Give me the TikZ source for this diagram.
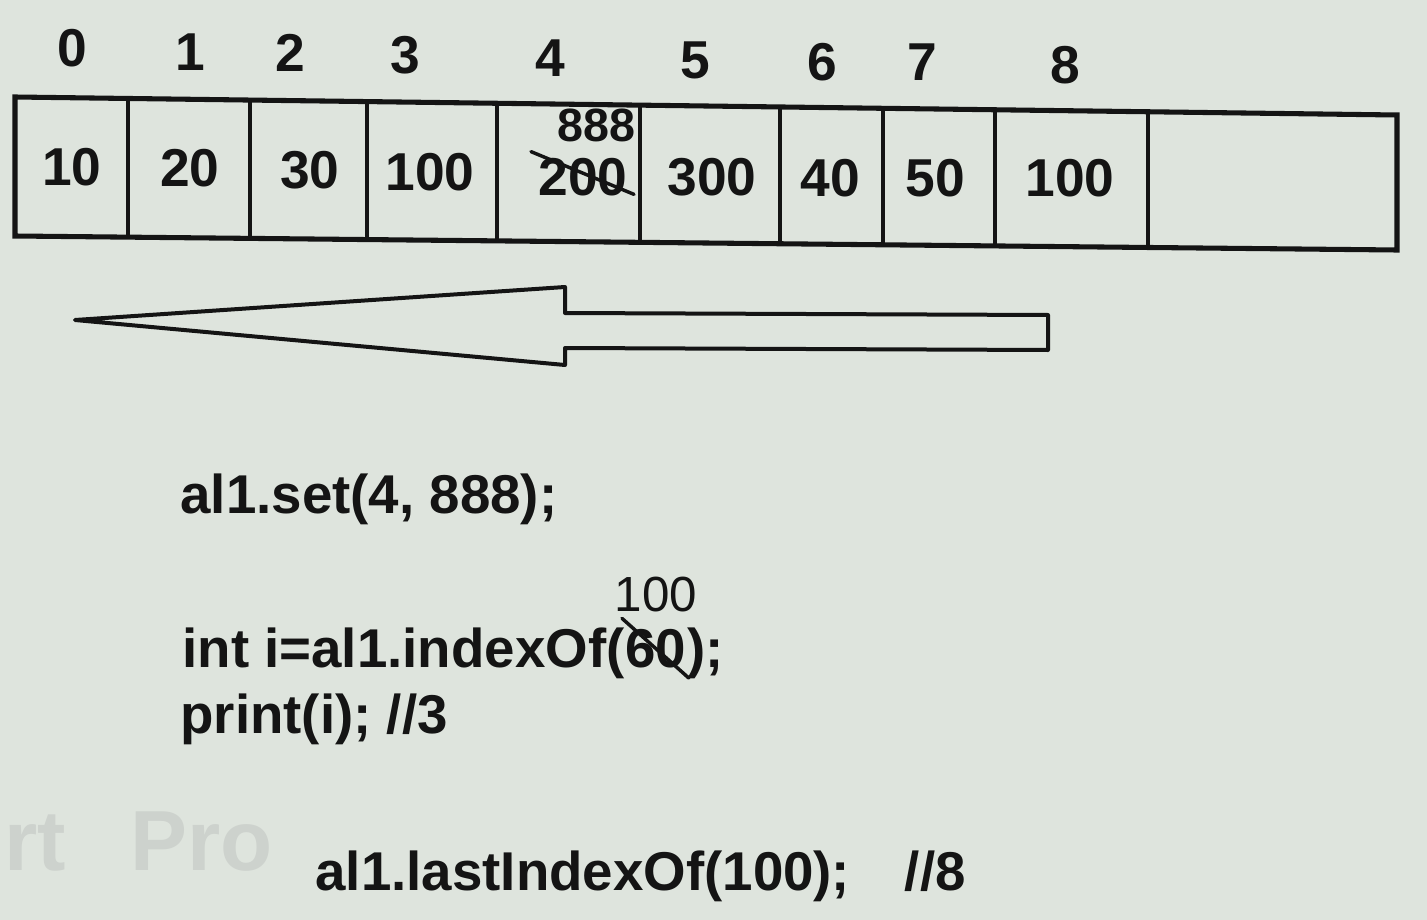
\documentclass[tikz,border=0pt]{standalone}
\usepackage{fontspec}
\setmainfont{Liberation Sans}
\usetikzlibrary{positioning,calc}
\definecolor{screen}{RGB}{222,228,221}
\definecolor{ink}{RGB}{20,20,20}
\definecolor{faint}{RGB}{205,210,205}
\tikzset{every picture/.style={line width=0.75pt}}
\tikzset{
  idx/.style={font=\fontsize{40}{48}\selectfont\bfseries, text=ink, inner sep=0pt},
  val/.style={font=\fontsize{40}{48}\selectfont\bfseries, text=ink, inner sep=0pt},
  newval/.style={font=\fontsize{35}{42}\selectfont\bfseries, text=ink, inner sep=0pt},
  fixval/.style={font=\fontsize{37}{44}\selectfont, text=ink, inner sep=0pt},
  code/.style={font=\fontsize{41}{49}\selectfont\bfseries, text=ink, inner sep=0pt, anchor=base west},
  strike/.style={draw=ink, line width=2.6pt, line cap=round},
}
\begin{document}
\begin{tikzpicture}[x=0.75pt,y=0.75pt,yscale=-1,xscale=1]
	%Background
	\fill[screen] (0,0) rectangle (1427,920);

	%Watermark
	\node[font=\fontsize{64}{76}\selectfont\bfseries, text=faint, anchor=base west, inner sep=0pt] (wm) at (4,870) {rt\hspace{0.75em}Pro};

	%Shape: Array box
	\draw[ink, line width=3.8pt] (15,97) -- (1397,115) -- (1397,250) -- (15,236) -- cycle;
	%Straight Lines: cell walls
	\foreach \x in {128,250,367,497,640,780,883,995,1148}
		\draw[ink, line width=2.8pt] (\x,{97+(\x-15)*0.013}) -- (\x,{236+(\x-15)*0.0101});

	%Index labels
	\foreach \i/\x/\y in {0/72/48, 1/190/52, 2/290/53, 3/405/55, 4/550/58, 5/695/60, 6/822/62, 7/922/62, 8/1065/65}
		\node[idx] (i\i) at (\x,\y) {\i};

	%Cell values
	\foreach \n/\x/\y/\t in {0/72/167/10, 1/190/168/20, 2/310/170/30, 3/430/172/100, 5/712/177/300, 6/830/178/40, 7/935/178/50, 8/1070/178/100}
		\node[val] (v\n) at (\x,\y) {\t};
	\node[val] (v4) at (583,177) {200};
	\draw[strike] ($(v4.north west)+(-7,-6)$) -- ($(v4.south east)+(6,-2)$);
	\node[newval] (nv4) [above=11pt of v4, xshift=10pt] {888};

	%Block arrow
	\draw[ink, line width=3pt, line join=round] (75,320) -- (565,287) -- (565,313) -- (1048,315) -- (1048,350) -- (565,348) -- (565,365) -- cycle;

	%Code
	\node[code] (setc) at (180,513) {al1.set(4, 888);};
	\node[code] (idxa) at (182,667) {int i=al1.indexOf(};
	\node[code] (n60) at (idxa.base east) {60};
	\node[code] (idxc) at (n60.base east) {);};
	\draw[strike] ($(n60.north west)+(-3,-10)$) -- ($(n60.south east)+(2,10)$);
	\node[fixval] (f60) [above=12pt of n60] {100};
	\node[code] (prt) at (180,733) {print(i); //3};
	\node[code] (last) at (315,890) {al1.lastIndexOf(100);\quad//8};

\end{tikzpicture}
\end{document}
